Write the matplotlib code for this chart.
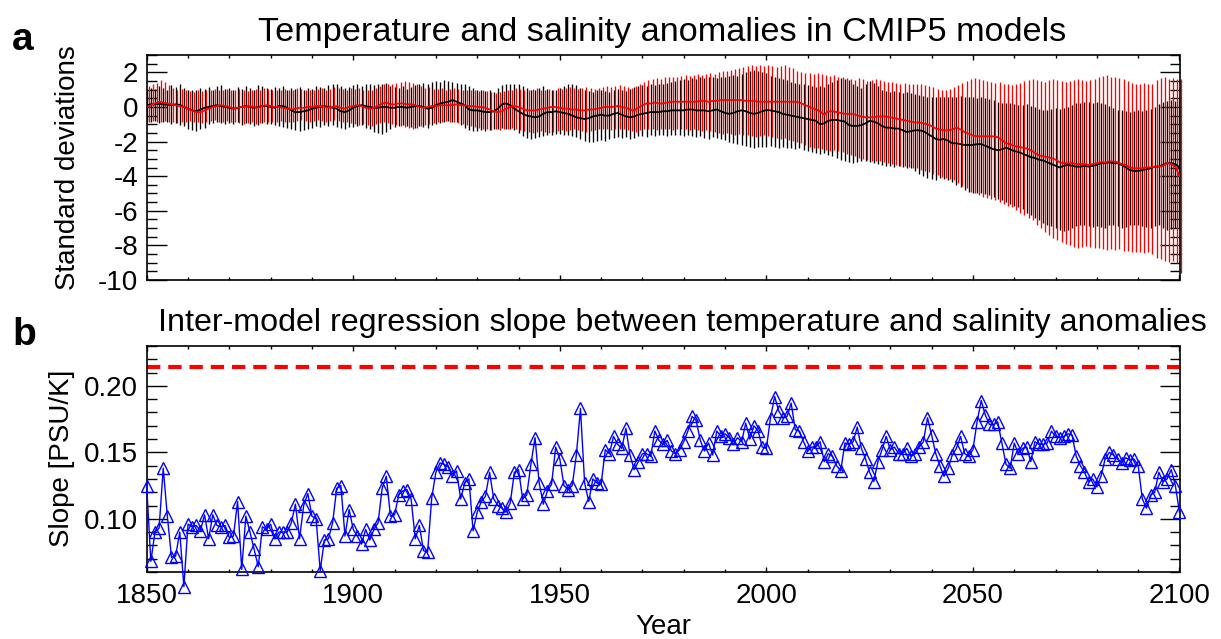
import numpy as np
import matplotlib
matplotlib.use("Agg")
import matplotlib.pyplot as plt
from matplotlib.ticker import MultipleLocator, FormatStrFormatter

plt.rcParams['font.family'] = ['Liberation Sans', 'DejaVu Sans']
plt.rcParams['axes.unicode_minus'] = False

years = np.arange(1850, 2101)

black_mean = [
    0.10, 0.15, 0.15, 0.18, 0.15, 0.12, 0.10, 0.15, 0.12, 0.00,
    -0.10, -0.20, -0.25, -0.15, -0.05, 0.00, 0.05, 0.10, 0.05, 0.00,
    -0.05, -0.10, -0.05, 0.00, 0.05, 0.00, -0.05, 0.00, 0.05, 0.05,
    0.00, -0.05, 0.05, 0.05, -0.05, -0.20, -0.30, -0.30, -0.25, -0.20,
    -0.10, -0.05, 0.00, 0.05, 0.00, -0.05, -0.10, -0.25, -0.30, -0.20,
    -0.05, 0.05, 0.10, 0.05, 0.00, -0.05, -0.05, 0.00, 0.00, -0.05,
    -0.05, 0.00, 0.00, -0.05, 0.00, 0.05, 0.05, 0.00, -0.10, -0.05,
    0.10, 0.20, 0.25, 0.30, 0.40, 0.30, 0.20, 0.10, -0.15, -0.20,
    -0.20, -0.25, -0.30, -0.30, -0.25, -0.10, 0.15, 0.20, 0.10, -0.10,
    -0.25, -0.40, -0.50, -0.55, -0.60, -0.55, -0.40, -0.30, -0.30, -0.25,
    -0.30, -0.35, -0.40, -0.50, -0.60, -0.65, -0.70, -0.65, -0.55, -0.50,
    -0.45, -0.50, -0.50, -0.40, -0.35, -0.45, -0.55, -0.60, -0.55, -0.45,
    -0.40, -0.35, -0.30, -0.30, -0.30, -0.25, -0.25, -0.20, -0.20, -0.20,
    -0.20, -0.15, -0.15, -0.20, -0.20, -0.20, -0.25, -0.20, -0.15, -0.25,
    -0.35, -0.40, -0.35, -0.25, -0.20, -0.25, -0.35, -0.40, -0.35, -0.25,
    -0.18, -0.20, -0.25, -0.30, -0.40, -0.45, -0.50, -0.55, -0.60, -0.65,
    -0.70, -0.75, -0.80, -1.00, -0.95, -0.80, -0.75, -0.75, -0.80, -0.85,
    -1.05, -1.10, -1.10, -1.05, -0.95, -0.80, -0.85, -0.95, -1.10, -1.20,
    -1.20, -1.25, -1.25, -1.35, -1.45, -1.40, -1.35, -1.35, -1.40, -1.55,
    -1.70, -1.85, -1.90, -1.85, -1.95, -2.10, -2.10, -2.15, -2.20, -2.20,
    -2.20, -2.15, -2.15, -2.25, -2.35, -2.45, -2.50, -2.45, -2.35, -2.45,
    -2.55, -2.60, -2.70, -2.80, -2.90, -2.95, -3.05, -3.10, -3.20, -3.30,
    -3.40, -3.50, -3.40, -3.35, -3.40, -3.45, -3.45, -3.40, -3.45, -3.40,
    -3.35, -3.25, -3.25, -3.20, -3.25, -3.25, -3.35, -3.50, -3.65, -3.70,
    -3.70, -3.65, -3.60, -3.55, -3.45, -3.45, -3.35, -3.25, -3.25, -3.30,
    -3.50,
]

red_mean = [
    0.00, 0.10, 0.20, 0.30, 0.25, 0.20, 0.15, 0.10, 0.05, 0.00,
    -0.10, -0.20, -0.30, -0.30, -0.20, -0.10, 0.00, 0.05, 0.10, 0.05,
    0.00, -0.10, -0.05, 0.00, 0.00, 0.05, 0.00, -0.05, 0.05, 0.10,
    0.05, 0.00, 0.00, -0.05, -0.10, -0.15, -0.10, -0.05, -0.05, 0.00,
    0.00, 0.05, 0.05, 0.00, -0.05, 0.00, 0.05, -0.05, -0.10, 0.00,
    0.05, 0.10, 0.05, -0.05, -0.10, -0.05, 0.05, 0.20, 0.25, 0.15,
    0.15, 0.20, 0.20, 0.15, 0.15, 0.10, 0.00, -0.05, 0.00, 0.05,
    0.05, 0.10, 0.10, 0.10, 0.10, 0.15, 0.10, 0.10, 0.05, 0.05,
    0.00, 0.00, -0.05, -0.15, -0.25, -0.30, -0.25, -0.10, 0.00, 0.05,
    0.00, -0.10, -0.20, -0.20, -0.20, -0.15, -0.10, -0.05, 0.00, 0.00,
    -0.05, -0.10, -0.10, -0.15, -0.15, -0.20, -0.20, -0.15, -0.15, -0.10,
    -0.05, 0.00, 0.00, 0.00, 0.05, 0.00, -0.05, -0.15, -0.20, -0.05,
    0.10, 0.20, 0.20, 0.25, 0.20, 0.20, 0.25, 0.30, 0.30, 0.30,
    0.30, 0.30, 0.30, 0.30, 0.35, 0.35, 0.30, 0.35, 0.35, 0.40,
    0.40, 0.40, 0.40, 0.40, 0.40, 0.35, 0.35, 0.35, 0.30, 0.30,
    0.30, 0.30, 0.30, 0.30, 0.30, 0.30, 0.30, 0.30, 0.25, 0.15,
    0.05, -0.05, -0.15, -0.25, -0.45, -0.25, -0.25, -0.30, -0.35, -0.40,
    -0.40, -0.40, -0.50, -0.55, -0.60, -0.60, -0.60, -0.55, -0.55, -0.55,
    -0.60, -0.65, -0.70, -0.75, -0.80, -0.85, -0.90, -0.90, -0.95, -1.00,
    -1.10, -1.25, -1.30, -1.35, -1.35, -1.30, -1.20, -1.30, -1.45, -1.55,
    -1.65, -1.70, -1.70, -1.70, -1.70, -1.70, -1.75, -1.90, -2.10, -2.15,
    -2.25, -2.30, -2.35, -2.40, -2.50, -2.65, -2.80, -2.85, -2.90, -2.95,
    -3.05, -3.20, -3.25, -3.25, -3.25, -3.30, -3.30, -3.30, -3.35, -3.30,
    -3.25, -3.20, -3.20, -3.15, -3.15, -3.20, -3.30, -3.35, -3.50, -3.55,
    -3.55, -3.55, -3.50, -3.50, -3.45, -3.45, -3.40, -3.25, -3.30, -3.45,
    -4.00,
]

black_hi = [
    1.00, 1.10, 1.05, 1.20, 1.10, 1.00, 1.25, 1.15, 1.35, 1.10,
    1.00, 0.95, 1.00, 1.10, 1.05, 1.15, 1.00, 1.20, 1.25, 1.05,
    1.10, 1.00, 1.15, 1.05, 1.20, 1.10, 1.00, 1.25, 1.20, 1.10,
    1.05, 1.15, 1.10, 1.20, 1.00, 1.10, 1.05, 1.15, 1.00, 1.10,
    1.05, 1.20, 1.15, 1.10, 1.25, 1.30, 1.35, 1.20, 1.10, 1.15,
    1.25, 1.30, 1.20, 1.35, 1.30, 1.25, 1.30, 1.35, 1.40, 1.20,
    1.15, 1.10, 1.20, 1.05, 1.15, 1.25, 1.30, 1.40, 1.35, 1.45,
    1.50, 1.45, 1.55, 1.50, 1.45, 1.40, 1.35, 1.30, 1.20, 1.10,
    1.00, 0.95, 0.90, 1.00, 0.85, 1.10, 1.25, 1.35, 1.35, 1.30,
    1.35, 1.20, 1.10, 1.00, 0.95, 1.10, 1.20, 1.05, 0.95, 1.00,
    1.10, 1.20, 1.30, 1.35, 1.25, 1.10, 0.95, 0.90, 0.85, 0.95,
    1.00, 0.90, 0.85, 0.95, 1.05, 1.00, 0.90, 1.05, 1.15, 1.20,
    1.25, 1.20, 1.30, 1.25, 1.35, 1.30, 1.40, 1.45, 1.50, 1.55,
    1.60, 1.55, 1.65, 1.60, 1.70, 1.65, 1.70, 1.75, 1.65, 1.70,
    1.75, 1.80, 1.85, 1.80, 1.90, 2.00, 2.10, 2.15, 2.05, 2.00,
    1.95, 1.80, 1.70, 1.65, 1.60, 1.55, 1.45, 1.40, 1.35, 1.30,
    1.25, 1.20, 1.15, 1.20, 1.15, 1.35, 1.45, 1.55, 1.65, 1.60,
    1.55, 1.35, 1.20, 1.10, 1.30, 1.50, 1.40, 1.20, 1.00, 0.90,
    0.85, 0.90, 0.85, 0.80, 0.85, 0.80, 0.75, 0.70, 0.65, 0.60,
    0.60, 0.55, 0.58, 0.55, 0.60, 0.58, 0.60, 0.65, 0.60, 0.55,
    0.55, 0.50, 0.55, 0.50, 0.45, 0.40, 0.30, 0.20, 0.25, 0.20,
    0.15, 0.10, 0.10, 0.15, 0.05, 0.00, -0.10, -0.20, -0.15, -0.10,
    -0.05, -0.10, -0.05, 0.00, 0.10, 0.20, 0.25, 0.30, 0.30, 0.25,
    0.30, 0.20, 0.15, 0.05, -0.05, -0.15, -0.20, -0.25, -0.30, -0.25,
    -0.20, -0.25, -0.20, -0.10, 0.00, 0.15, 0.30, 0.35, 0.40, 0.35,
    0.40,
]

black_lo = [
    -0.85, -0.90, -0.80, -0.95, -0.85, -0.90, -1.00, -0.95, -1.05, -1.10,
    -1.25, -1.35, -1.40, -1.30, -1.20, -1.00, -0.95, -0.90, -0.95, -1.00,
    -0.95, -1.00, -0.90, -1.05, -0.95, -1.00, -1.10, -1.05, -0.95, -1.00,
    -1.00, -1.05, -1.10, -1.15, -1.20, -1.30, -1.35, -1.40, -1.35, -1.25,
    -1.20, -1.10, -1.15, -1.05, -1.10, -1.05, -1.15, -1.20, -1.25, -1.15,
    -1.15, -1.10, -1.05, -1.20, -1.30, -1.45, -1.50, -1.55, -1.45, -1.25,
    -1.15, -1.10, -1.05, -1.10, -1.15, -1.20, -1.10, -1.15, -1.20, -1.05,
    -1.00, -0.95, -0.85, -0.80, -0.85, -0.90, -1.05, -1.20, -1.35, -1.40,
    -1.40, -1.35, -1.40, -1.35, -1.30, -1.25, -1.20, -1.25, -1.30, -1.35,
    -1.50, -1.70, -1.80, -1.85, -1.80, -1.75, -1.70, -1.65, -1.60, -1.55,
    -1.55, -1.60, -1.65, -1.70, -1.75, -1.85, -1.95, -2.00, -2.05, -1.95,
    -1.90, -1.95, -1.85, -1.80, -1.75, -1.80, -1.75, -1.85, -1.80, -1.70,
    -1.70, -1.75, -1.65, -1.70, -1.60, -1.65, -1.70, -1.65, -1.60, -1.65,
    -1.70, -1.65, -1.70, -1.75, -1.70, -1.80, -1.85, -1.75, -1.80, -1.85,
    -1.90, -2.00, -2.10, -2.15, -2.20, -2.25, -2.30, -2.35, -2.30, -2.30,
    -2.30, -2.25, -2.30, -2.35, -2.30, -2.35, -2.40, -2.45, -2.40, -2.50,
    -2.55, -2.60, -2.65, -2.70, -2.65, -2.75, -2.85, -2.95, -3.05, -3.10,
    -3.20, -3.25, -3.20, -3.15, -3.10, -3.20, -3.25, -3.30, -3.35, -3.40,
    -3.40, -3.45, -3.40, -3.45, -3.50, -3.55, -3.70, -3.85, -4.00, -4.10,
    -4.15, -4.20, -4.10, -4.15, -4.25, -4.35, -4.50, -4.65, -4.80, -4.90,
    -4.95, -5.00, -4.95, -5.05, -5.10, -5.20, -5.30, -5.40, -5.50, -5.60,
    -5.70, -5.80, -5.90, -6.10, -6.25, -6.40, -6.55, -6.70, -6.80, -6.90,
    -7.00, -7.10, -7.15, -7.10, -7.00, -6.90, -6.80, -6.85, -6.90, -6.95,
    -6.90, -6.95, -7.00, -6.85, -6.80, -6.90, -7.00, -6.95, -6.85, -6.80,
    -6.85, -6.90, -6.95, -7.00, -6.90, -6.85, -7.00, -7.10, -7.05, -7.00,
    -7.00,
]

red_hi = [
    1.20, 1.30, 1.40, 1.55, 1.45, 1.25, 1.10, 1.00, 1.05, 0.95,
    0.90, 0.85, 0.95, 0.90, 1.00, 0.95, 1.05, 1.00, 0.95, 1.05,
    1.00, 0.95, 1.05, 1.00, 0.90, 1.00, 1.05, 0.95, 1.10, 1.05,
    1.00, 0.95, 1.00, 1.05, 0.95, 1.00, 1.10, 1.05, 1.00, 0.95,
    1.00, 1.05, 1.10, 1.00, 1.05, 1.15, 1.10, 1.05, 1.00, 1.10,
    1.05, 1.10, 1.00, 0.95, 1.00, 1.10, 1.20, 1.30, 1.35, 1.30,
    1.40, 1.45, 1.50, 1.45, 1.40, 1.30, 1.20, 1.10, 1.15, 1.05,
    1.05, 1.10, 1.00, 1.05, 1.10, 1.05, 1.00, 0.95, 1.00, 0.95,
    0.90, 0.95, 0.90, 0.85, 0.80, 0.85, 0.90, 0.95, 1.00, 1.10,
    1.05, 1.00, 0.95, 1.05, 1.10, 1.00, 0.95, 1.05, 1.00, 1.10,
    1.05, 1.10, 1.15, 1.10, 1.05, 1.10, 1.15, 1.10, 1.05, 1.10,
    1.15, 1.20, 1.15, 1.20, 1.25, 1.20, 1.15, 1.10, 1.20, 1.35,
    1.45, 1.55, 1.60, 1.65, 1.60, 1.70, 1.75, 1.70, 1.75, 1.80,
    1.85, 1.80, 1.85, 1.90, 1.85, 1.90, 1.95, 1.90, 2.00, 2.05,
    2.10, 2.15, 2.20, 2.25, 2.30, 2.35, 2.40, 2.35, 2.40, 2.35,
    2.40, 2.35, 2.30, 2.35, 2.40, 2.30, 2.25, 2.10, 2.00, 1.95,
    1.95, 1.90, 1.95, 1.90, 1.85, 1.80, 1.85, 1.75, 1.70, 1.65,
    1.60, 1.55, 1.65, 1.60, 1.50, 1.55, 1.60, 1.55, 1.50, 1.45,
    1.45, 1.40, 1.35, 1.40, 1.35, 1.30, 1.35, 1.30, 1.25, 1.20,
    1.15, 1.05, 1.00, 0.98, 1.05, 1.15, 1.25, 1.40, 1.50, 1.60,
    1.65, 1.60, 1.55, 1.50, 1.45, 1.40, 1.45, 1.35, 1.30, 1.25,
    1.30, 1.40, 1.50, 1.55, 1.60, 1.55, 1.50, 1.45, 1.55, 1.60,
    1.55, 1.50, 1.45, 1.50, 1.55, 1.60, 1.55, 1.50, 1.55, 1.60,
    1.70, 1.80, 1.85, 1.75, 1.70, 1.65, 1.60, 1.50, 1.40, 1.35,
    1.35, 1.40, 1.30, 1.35, 1.55, 1.65, 1.70, 1.60, 1.65, 1.60,
    1.60,
]

red_lo = [
    -0.85, -0.80, -0.90, -0.85, -0.80, -0.90, -0.85, -0.95, -0.90, -0.85,
    -0.80, -0.85, -0.90, -0.95, -0.85, -0.80, -0.75, -0.85, -0.90, -0.80,
    -0.85, -0.90, -0.95, -1.00, -0.95, -0.90, -1.00, -0.95, -0.90, -0.85,
    -0.90, -0.85, -0.80, -0.85, -0.90, -0.85, -0.80, -0.75, -0.80, -0.85,
    -0.80, -0.75, -0.80, -0.85, -0.80, -0.75, -0.80, -0.85, -0.90, -0.95,
    -1.00, -1.05, -1.00, -1.05, -1.10, -1.00, -0.95, -0.90, -0.95, -1.00,
    -1.05, -1.10, -1.15, -1.20, -1.25, -1.20, -1.10, -1.05, -1.00, -0.95,
    -0.90, -0.85, -0.80, -0.85, -0.90, -0.95, -1.00, -1.05, -1.10, -1.15,
    -1.20, -1.25, -1.30, -1.35, -1.30, -1.35, -1.30, -1.25, -1.20, -1.30,
    -1.35, -1.40, -1.45, -1.50, -1.45, -1.40, -1.45, -1.50, -1.45, -1.40,
    -1.35, -1.40, -1.35, -1.30, -1.35, -1.40, -1.45, -1.40, -1.35, -1.30,
    -1.25, -1.30, -1.35, -1.30, -1.25, -1.30, -1.35, -1.40, -1.45, -1.35,
    -1.30, -1.25, -1.30, -1.35, -1.30, -1.25, -1.30, -1.35, -1.30, -1.25,
    -1.30, -1.35, -1.30, -1.35, -1.40, -1.35, -1.40, -1.45, -1.50, -1.55,
    -1.50, -1.55, -1.60, -1.55, -1.60, -1.65, -1.70, -1.75, -1.70, -1.65,
    -1.70, -1.75, -1.80, -1.85, -1.80, -1.90, -1.95, -2.00, -2.10, -2.20,
    -2.30, -2.35, -2.40, -2.45, -2.50, -2.55, -2.50, -2.55, -2.60, -2.70,
    -2.80, -2.85, -2.95, -3.00, -3.05, -3.10, -3.10, -3.15, -3.20, -3.25,
    -3.30, -3.35, -3.40, -3.40, -3.45, -3.50, -3.55, -3.65, -3.70, -3.75,
    -3.85, -3.95, -4.05, -4.10, -4.15, -4.25, -4.40, -4.55, -4.70, -4.90,
    -5.00, -5.10, -5.20, -5.25, -5.30, -5.40, -5.50, -5.60, -5.70, -5.80,
    -5.95, -6.10, -6.25, -6.40, -6.55, -6.80, -7.00, -7.20, -7.40, -7.60,
    -7.70, -7.80, -7.90, -8.00, -8.10, -8.15, -8.10, -8.05, -8.10, -8.15,
    -8.15, -8.20, -8.25, -8.20, -8.25, -8.20, -8.30, -8.35, -8.40, -8.40,
    -8.40, -8.45, -8.40, -8.50, -8.70, -8.80, -8.90, -8.95, -8.90, -9.00,
    -9.60,
]

slope = [
    0.125, 0.068, 0.090, 0.093, 0.138, 0.102, 0.071, 0.072, 0.090, 0.049,
    0.096, 0.094, 0.095, 0.091, 0.103, 0.085, 0.103, 0.095, 0.094, 0.095,
    0.086, 0.087, 0.113, 0.062, 0.102, 0.090, 0.077, 0.064, 0.094, 0.092,
    0.096, 0.085, 0.090, 0.090, 0.090, 0.097, 0.111, 0.085, 0.110, 0.119,
    0.102, 0.100, 0.061, 0.084, 0.085, 0.097, 0.123, 0.125, 0.087, 0.107,
    0.092, 0.087, 0.081, 0.092, 0.084, 0.092, 0.097, 0.123, 0.132, 0.102,
    0.103, 0.118, 0.121, 0.122, 0.115, 0.085, 0.095, 0.076, 0.075, 0.116,
    0.135, 0.142, 0.141, 0.139, 0.132, 0.136, 0.115, 0.127, 0.130, 0.091,
    0.105, 0.113, 0.117, 0.135, 0.115, 0.110, 0.108, 0.105, 0.112, 0.135,
    0.137, 0.115, 0.118, 0.141, 0.161, 0.127, 0.111, 0.121, 0.126, 0.154,
    0.145, 0.125, 0.122, 0.125, 0.148, 0.183, 0.127, 0.113, 0.130, 0.127,
    0.126, 0.152, 0.149, 0.162, 0.156, 0.153, 0.168, 0.148, 0.137, 0.143,
    0.149, 0.149, 0.147, 0.166, 0.159, 0.156, 0.159, 0.151, 0.149, 0.152,
    0.158, 0.166, 0.177, 0.174, 0.159, 0.151, 0.157, 0.148, 0.166, 0.162,
    0.164, 0.161, 0.156, 0.161, 0.158, 0.172, 0.160, 0.170, 0.166, 0.154,
    0.153, 0.176, 0.192, 0.181, 0.176, 0.177, 0.187, 0.167, 0.166, 0.158,
    0.151, 0.154, 0.154, 0.158, 0.143, 0.149, 0.147, 0.140, 0.136, 0.157,
    0.156, 0.158, 0.169, 0.153, 0.145, 0.135, 0.128, 0.143, 0.152, 0.162,
    0.152, 0.154, 0.149, 0.149, 0.153, 0.147, 0.149, 0.154, 0.158, 0.176,
    0.163, 0.149, 0.140, 0.132, 0.138, 0.148, 0.153, 0.162, 0.149, 0.147,
    0.152, 0.173, 0.189, 0.178, 0.171, 0.171, 0.173, 0.157, 0.141, 0.138,
    0.157, 0.149, 0.153, 0.154, 0.143, 0.158, 0.156, 0.156, 0.157, 0.166,
    0.162, 0.161, 0.162, 0.164, 0.163, 0.147, 0.140, 0.135, 0.128, 0.130,
    0.124, 0.132, 0.145, 0.150, 0.148, 0.145, 0.142, 0.146, 0.144, 0.145,
    0.140, 0.115, 0.108, 0.118, 0.120, 0.135, 0.128, 0.130, 0.137, 0.125,
    0.105,
]

reference_slope = 0.214

W, H = 1221, 639
fig = plt.figure(figsize=(W / 100, H / 100), dpi=100)


def rect(l, t, r, b):
    return [l / W, 1 - b / H, (r - l) / W, (b - t) / H]


ax1 = fig.add_axes(rect(146.7, 55, 1179.5, 280))
ax2 = fig.add_axes(rect(146.7, 346, 1179.5, 572))

# Panel a
ax1.vlines(years, black_lo, black_hi, colors='black', lw=0.95, zorder=2)
ax1.vlines(years + 0.45, red_lo, red_hi, colors='red', lw=0.95, zorder=2,
           clip_on=False)
ax1.plot(years, black_mean, color='black', lw=1.3, zorder=3)
ax1.plot(years, red_mean, color='red', lw=1.3, zorder=4)
ax1.set_xlim(1850, 2100)
ax1.set_ylim(-10, 3)
ax1.yaxis.set_major_locator(MultipleLocator(2))
ax1.yaxis.set_minor_locator(MultipleLocator(0.5))
ax1.set_xticklabels([])

# Panel b
ax2.axhline(reference_slope, color='red', lw=3.0, dashes=(3.2, 1.9), zorder=2)
ax2.plot(years, slope, color='blue', lw=1.0, marker='^', ms=8.3,
         mfc='none', mec='blue', mew=1.0, clip_on=False, zorder=3)
ax2.set_xlim(1850, 2100)
ax2.set_ylim(0.06, 0.23)
ax2.yaxis.set_major_locator(MultipleLocator(0.05))
ax2.yaxis.set_minor_locator(MultipleLocator(0.01))
ax2.yaxis.set_major_formatter(FormatStrFormatter('%.2f'))

for ax in (ax1, ax2):
    ax.xaxis.set_major_locator(MultipleLocator(50))
    ax.xaxis.set_minor_locator(MultipleLocator(10))
    ax.tick_params(which='both', direction='in', top=True, right=True,
                   labelsize=20, width=1.0, colors='black')
    ax.tick_params(axis='y', which='major', length=14.5, pad=6)
    ax.tick_params(axis='y', which='minor', length=7.2)
    ax.tick_params(axis='x', which='major', length=3.8, pad=8)
    ax.tick_params(axis='x', which='minor', length=2.2)
    for s in ax.spines.values():
        s.set_linewidth(1.2)

fig.text(662.5 / W, 1 - 41 / H, 'Temperature and salinity anomalies in CMIP5 models',
         ha='center', va='baseline', fontsize=24.7)
fig.text(682 / W, 1 - 331 / H,
         'Inter-model regression slope between temperature and salinity anomalies',
         ha='center', va='baseline', fontsize=23.2)
fig.text(12 / W, 1 - 50 / H, 'a', ha='left', va='baseline', fontsize=28,
         fontweight='bold')
fig.text(12 / W, 1 - 345 / H, 'b', ha='left', va='baseline', fontsize=28,
         fontweight='bold')
fig.text(68 / W, 1 - 168 / H, 'Standard deviations', rotation=90,
         ha='center', va='center', fontsize=20)
fig.text(62 / W, 1 - 458 / H, 'Slope [PSU/K]', rotation=90,
         ha='center', va='center', fontsize=20)
fig.text(663 / W, 1 - 634 / H, 'Year', ha='center', va='baseline', fontsize=20)

fig.savefig('out.png', dpi=100)
